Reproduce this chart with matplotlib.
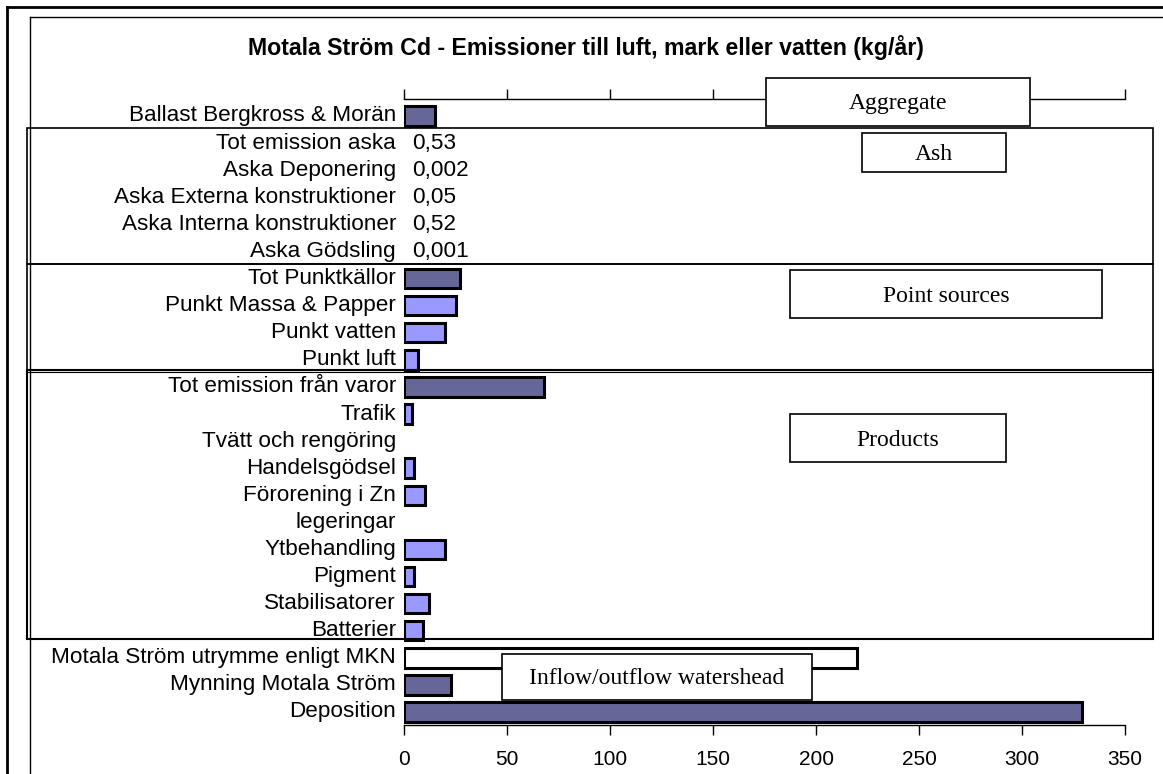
import matplotlib.pyplot as plt
from matplotlib.patches import Rectangle
from matplotlib.transforms import blended_transform_factory

# chart data
categories = [
    "Ballast Bergkross & Morän",
    "Tot emission aska",
    "Aska Deponering",
    "Aska Externa konstruktioner",
    "Aska Interna konstruktioner",
    "Aska Gödsling",
    "Tot Punktkällor",
    "Punkt Massa & Papper",
    "Punkt vatten",
    "Punkt luft",
    "Tot emission från varor",
    "Trafik",
    "Tvätt och rengöring",
    "Handelsgödsel",
    "Förorening i Zn\nlegeringar",
    "Ytbehandling",
    "Pigment",
    "Stabilisatorer",
    "Batterier",
    "Motala Ström utrymme enligt MKN",
    "Mynning Motala Ström",
    "Deposition",
]
values = [15, 0.53, 0.002, 0.05, 0.52, 0.001, 27, 25, 20, 7, 68, 4, 0, 5, 10,
          20, 5, 12, 9, 220, 23, 329]
# bar kind: d = total (dark), l = part (light), w = MKN limit (white)
kinds = ["d", "d", "l", "l", "l", "l", "d", "l", "l", "l", "d", "l", "l", "l",
         "l", "l", "l", "l", "l", "w", "d", "d"]
ash_labels = ["0,53", "0,002", "0,05", "0,52", "0,001"]
x_ticks = [0, 50, 100, 150, 200, 250, 300, 350]
title = "Motala Ström Cd - Emissioner till luft, mark eller vatten (kg/år)"

colors = {"d": "#666699", "l": "#9999FF", "w": "#FFFFFF"}

W, H = 1163, 774
fig = plt.figure(figsize=(W / 100, H / 100), dpi=100)
plt.rcParams["font.family"] = ["Liberation Sans", "DejaVu Sans"]


def fx(x):
    return x / W


def fy(y):
    return 1 - y / H


# slot positions (one empty slot for the wrapped label)
slots = list(range(15)) + list(range(16, 23))

ax_left, ax_right, ax_top, ax_bot = 404, 1125, 99, 725
ax = fig.add_axes([fx(ax_left), fy(ax_bot), fx(ax_right - ax_left),
                   (ax_bot - ax_top) / H])
slot_px = (712 - 116) / 22
ax.set_xlim(0, 350)
ax.set_ylim(22 + (ax_bot - 712) / slot_px, -(116 - ax_top) / slot_px)

# bars too small to see are not drawn visibly (as in the original)
lws = [2.2 if v >= 1 else 0 for v in values]
fcs = [colors[k] if v >= 1 else "none" for k, v in zip(kinds, values)]
ax.barh(slots, values, height=0.72, color=fcs, edgecolor="black",
        linewidth=lws, zorder=3)

ax.set_yticks([])
ax.set_xticks(x_ticks)
ax.set_xticklabels([str(t) for t in x_ticks], fontsize=15)
ax.tick_params(axis="x", direction="out", length=7, width=1, pad=11,
               top=True, labeltop=False)
for side in ["left", "right"]:
    ax.spines[side].set_visible(False)
ax.spines["top"].set_linewidth(1)
ax.spines["bottom"].set_linewidth(1)
ax.patch.set_visible(False)

# category labels
ytr = blended_transform_factory(ax.transAxes, ax.transData)
for s, lab in zip(slots, categories):
    for k, line in enumerate(lab.split("\n")):
        ax.text(-8 / (ax_right - ax_left), s + k, line, transform=ytr,
                ha="right", va="center", fontsize=16.2)

# ash value labels
for i, lab in enumerate(ash_labels):
    ax.text(4, slots[1 + i], lab, ha="left", va="center", fontsize=16.2)

fig.text(fx(586), fy(48), title, ha="center", va="center", fontsize=16.7,
         fontweight="bold")

# frames
fig.add_artist(plt.Line2D([fx(7), fx(7)], [fy(7), 0], color="black", lw=2))
fig.add_artist(plt.Line2D([fx(7), 1], [fy(7), fy(7)], color="black", lw=2))
fig.add_artist(plt.Line2D([fx(30), fx(30)], [fy(17), 0], color="black", lw=1))
fig.add_artist(plt.Line2D([fx(30), 1], [fy(17), fy(17)], color="black", lw=1))


def box(x0, y0, x1, y1, lw=1.2, fill=False):
    r = Rectangle((fx(x0), fy(y1)), fx(x1 - x0), (y1 - y0) / H,
                  transform=fig.transFigure, fill=fill, facecolor="white",
                  edgecolor="black", linewidth=lw, zorder=5)
    fig.add_artist(r)


# section boxes
box(27, 128, 1153, 264)
box(27, 264, 1153, 370)
box(27, 370, 1153, 639, lw=1.5)
box(27, 370, 1153, 372, lw=0.8)

# label boxes
label_boxes = [
    ("Aggregate", 766, 78, 1030, 126),
    ("Ash", 862, 133, 1006, 172),
    ("Point sources", 790, 270, 1102, 318),
    ("Products", 790, 414, 1006, 462),
    ("Inflow/outflow watershead", 502, 654, 812, 700),
]
for txt, x0, y0, x1, y1 in label_boxes:
    box(x0, y0, x1, y1, lw=1.2, fill=True)
    fig.text(fx((x0 + x1) / 2), fy((y0 + y1) / 2 + 2), txt, ha="center",
             va="center", fontsize=17, family="Liberation Serif", zorder=6)

fig.savefig("out.png", dpi=100)
